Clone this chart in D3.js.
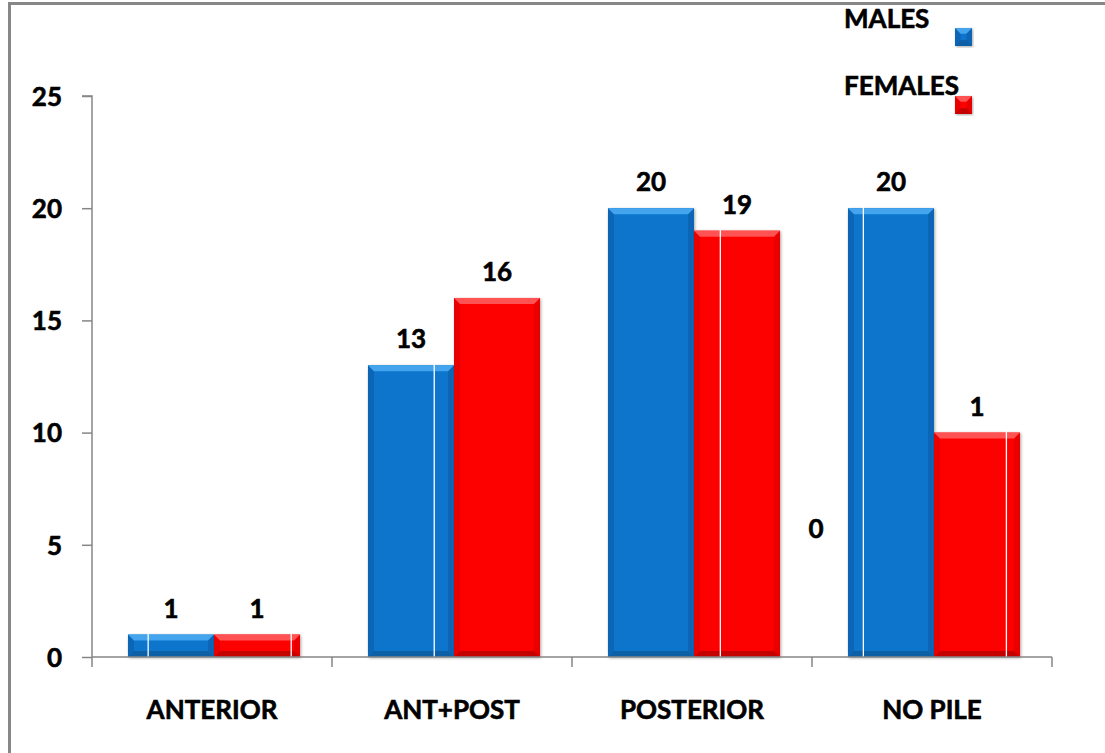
<!DOCTYPE html>
<html>
<head>
<meta charset="utf-8">
<script src="https://cdn.jsdelivr.net/npm/d3@7"></script>
<style>
  html, body { margin: 0; padding: 0; background: #fff; }
  svg { display: block; }
  text { font-family: Lato, "Open Sans", sans-serif; font-weight: 700; fill: #000; stroke: #000; stroke-width: 0.6px; }
</style>
</head>
<body>
<svg id="chart" width="1105" height="753"></svg>
<script>
// ---- data ----
const categories = ["ANTERIOR", "ANT+POST", "POSTERIOR", "NO PILE"];
const seriesNames = ["MALES", "FEMALES"];
const males = [1, 13, 20, 20];
const females = [1, 16, 19, 10];
const maleLabels = ["1", "13", "20", "20"];
const femaleLabels = ["1", "16", "19", "1"];
// stray label as it appears in the original (part of the "10" label)
const strayLabel = { text: "0", category: "NO PILE", value: 5.7 };
const yTicks = [0, 5, 10, 15, 20, 25];

// ---- layout ----
const W = 1105, H = 753;
const margin = { left: 92, right: 53, top: 96, bottom: 96 };
const svg = d3.select("#chart");

const x = d3.scaleBand().domain(categories)
  .range([margin.left, W - margin.right]).paddingInner(0).paddingOuter(0);
const inner = d3.scaleBand().domain(seriesNames)
  .range([2, x.bandwidth() + 2]).paddingInner(0).paddingOuter(0.395);
const y = d3.scaleLinear().domain([0, 25]).range([H - margin.bottom, margin.top]);

const colors = {
  MALES:   { base: "#0874cc", light: "#45a4ee", dark: "#0a5ea6", edge: "#0866b5" },
  FEMALES: { base: "#fd0505", light: "#ff5252", dark: "#c40000", edge: "#e80000" }
};

// frame
svg.append("path")
  .attr("d", `M9.5,${H} L9.5,3.5 L${W},3.5`)
  .attr("fill", "none").attr("stroke", "#878787").attr("stroke-width", 3);

// soft shadow filter
const defs = svg.append("defs");
const f = defs.append("filter").attr("id", "shadow").attr("x", "-10%").attr("y", "-10%").attr("width", "120%").attr("height", "120%");
f.append("feGaussianBlur").attr("in", "SourceAlpha").attr("stdDeviation", 1.5).attr("result", "b");
f.append("feOffset").attr("in", "b").attr("dx", 1).attr("dy", 1).attr("result", "o");
f.append("feComponentTransfer").attr("in", "o").attr("result", "o2")
  .append("feFuncA").attr("type", "linear").attr("slope", 0.35);
const m = f.append("feMerge");
m.append("feMergeNode").attr("in", "o2");
m.append("feMergeNode").attr("in", "SourceGraphic");

// bevelled box drawing
function bevelBox(g, x0, y0, w, h, c) {
  const b = Math.min(6, h / 3, w / 3);
  const grp = g.append("g").attr("filter", "url(#shadow)");
  grp.append("rect").attr("x", x0).attr("y", y0).attr("width", w).attr("height", h).attr("fill", c.base);
  grp.append("path").attr("d", `M${x0},${y0} L${x0 + b},${y0 + b} L${x0 + b},${y0 + h - b} L${x0},${y0 + h}Z`).attr("fill", c.edge);
  grp.append("path").attr("d", `M${x0 + w},${y0} L${x0 + w - b},${y0 + b} L${x0 + w - b},${y0 + h - b} L${x0 + w},${y0 + h}Z`).attr("fill", c.edge);
  grp.append("path").attr("d", `M${x0},${y0 + h} L${x0 + b},${y0 + h - b} L${x0 + w - b},${y0 + h - b} L${x0 + w},${y0 + h}Z`).attr("fill", c.dark);
  grp.append("path").attr("d", `M${x0},${y0} L${x0 + w},${y0} L${x0 + w - b},${y0 + b} L${x0 + b},${y0 + b}Z`).attr("fill", c.light);
  return grp;
}

// bars
const barsG = svg.append("g");
const seriesData = { MALES: males, FEMALES: females };
seriesNames.forEach(s => {
  categories.forEach((cat, i) => {
    const v = seriesData[s][i];
    const x0 = x(cat) + inner(s);
    bevelBox(barsG, x0, y(v), inner.bandwidth(), y(0) - y(v), colors[s]);
  });
});

// thin white vertical lines crossing the bars (as in the original)
const plotW = x.range()[1] - x.range()[0];
const whiteLines = d3.range(7).map(k => x.range()[0] + plotW * (0.0585 + 0.149 * k));
svg.append("g").selectAll("line").data(whiteLines).join("line")
  .attr("x1", d => d).attr("x2", d => d)
  .attr("y1", y(25)).attr("y2", y(0))
  .attr("stroke", "#fff").attr("stroke-width", 1.3);

// axes
const axisColor = "#868686";
const yAxis = svg.append("g").attr("transform", `translate(${margin.left},0)`)
  .call(d3.axisLeft(y).tickValues(yTicks).tickSize(10).tickPadding(20).tickFormat(d3.format("d")));
const xAxis = svg.append("g").attr("transform", `translate(0,${y(0)})`)
  .call(d3.axisBottom(x).tickSize(0).tickPadding(0).tickFormat(""));
[yAxis, xAxis].forEach(a => {
  a.select(".domain").attr("stroke", axisColor).attr("stroke-width", 1.5);
  a.selectAll(".tick line").attr("stroke", axisColor).attr("stroke-width", 1.5);
});
yAxis.select(".domain").attr("d", `M-10,${y(25)}H0V${y(0)}`);
yAxis.selectAll(".tick text").style("font-size", "26px").attr("font-family", "Lato").attr("font-weight", 700).attr("fill", "#000").attr("dy", "0.36em");
xAxis.select(".domain").attr("d", `M${x.range()[0]},0H${x.range()[1]}`);
xAxis.selectAll(".tick").remove();
const bounds = categories.map(c => x(c)).concat([x.range()[1]]);
xAxis.selectAll("line.bt").data(bounds).join("line").attr("class", "bt")
  .attr("x1", d => d).attr("x2", d => d).attr("y1", 0).attr("y2", 10)
  .attr("stroke", axisColor).attr("stroke-width", 1.5);
svg.append("g").selectAll("text").data(categories).join("text")
  .attr("x", d => x(d) + x.bandwidth() / 2).attr("y", y(0) + 62)
  .attr("text-anchor", "middle").style("font-size", "26px").text(d => d);

// value labels
const labelG = svg.append("g");
const labelData = { MALES: maleLabels, FEMALES: femaleLabels };
seriesNames.forEach(s => {
  categories.forEach((cat, i) => {
    labelG.append("text")
      .attr("x", x(cat) + inner(s) + inner.bandwidth() / 2)
      .attr("y", y(seriesData[s][i]) - 17)
      .attr("text-anchor", "middle").style("font-size", "26px")
      .text(labelData[s][i]);
  });
});
labelG.append("text")
  .attr("x", x(strayLabel.category) + 4).attr("y", y(strayLabel.value) + 9)
  .attr("text-anchor", "middle").style("font-size", "26px").text(strayLabel.text);

// legend
const legend = svg.append("g");
const legendItems = [
  { name: "MALES", ty: 28, by: 28 },
  { name: "FEMALES", ty: 95, by: 96 }
];
legendItems.forEach(it => {
  legend.append("text").attr("x", 844).attr("y", it.ty).style("font-size", "26px").text(it.name);
  bevelBox(legend, 955, it.by, 17, 18, colors[it.name]);
});
</script>
</body>
</html>
